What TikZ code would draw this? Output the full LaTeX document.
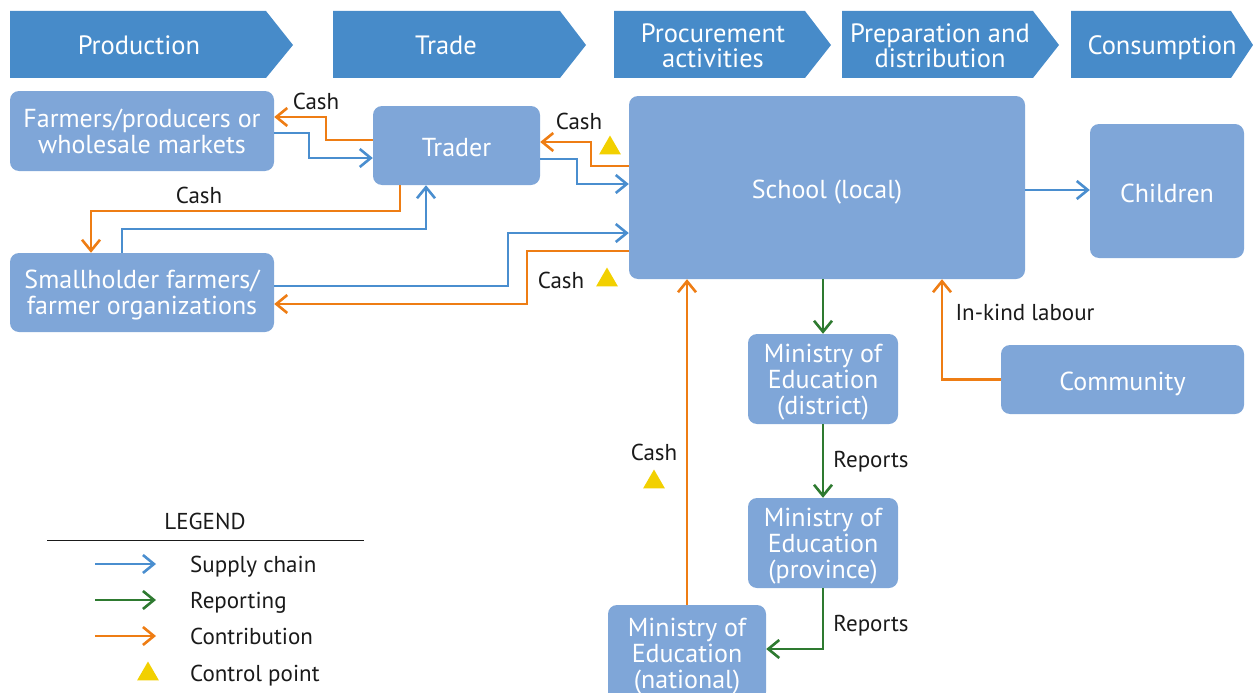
\documentclass[tikz,border=0pt]{standalone}
\usepackage{fontspec}
\setmainfont{PT Sans}
\usetikzlibrary{arrows.meta,shapes.geometric}
\definecolor{chev}{HTML}{478BC9}
\definecolor{boxblue}{HTML}{7FA6D8}
\definecolor{lblue}{HTML}{4A8ECF}
\definecolor{lgreen}{HTML}{2E7A30}
\definecolor{lorange}{HTML}{EE7D14}
\definecolor{cyellow}{HTML}{F2D000}
\definecolor{txt}{HTML}{1A1A1A}
\tikzset{
  box/.style={rounded corners=9, fill=boxblue, text=white, inner sep=0, align=center,
    text depth=0pt, font=\fontsize{26}{26}\selectfont},
  onebox/.style={box, text height=22pt},
  chevron/.style={fill=chev},
  headtxt/.style={text=white, align=center, inner sep=0, font=\fontsize{26.5}{25}\selectfont},
  onehead/.style={headtxt, text height=19pt, text depth=0pt},
  lbl/.style={text=txt, inner sep=0, text height=16.5pt, text depth=0pt, font=\fontsize{23}{24}\selectfont},
  conn/.style={line width=2.6, -{Straight Barb[length=11,width=18,line width=2.6]}},
  supply/.style={conn, draw=lblue},
  report/.style={conn, draw=lgreen},
  contrib/.style={conn, draw=lorange},
  ctrl/.style={regular polygon, regular polygon sides=3, fill=cyellow, inner sep=0, minimum size=25},
}
\begin{document}
\begin{tikzpicture}[x=1pt,y=-1pt]
\useasboundingbox (0,0) rectangle (1253,693);
% header chevrons
\fill[chevron] (10,11) -- (266,11) -- (293,45) -- (266,78) -- (10,78) -- cycle;
\fill[chevron] (333,11) -- (560,11) -- (586,45) -- (560,78) -- (333,78) -- cycle;
\fill[chevron] (614,11) -- (805,11) -- (831,45) -- (805,78) -- (614,78) -- cycle;
\fill[chevron] (842,11) -- (1033,11) -- (1059,45) -- (1033,78) -- (842,78) -- cycle;
\fill[chevron] (1071,11) -- (1231,11) -- (1253,45) -- (1231,78) -- (1071,78) -- cycle;
\node[onehead] (h1) at (139,45) {Production};
\node[onehead] (h2) at (446,45) {Trade};
\node[headtxt] (h3) at (713,46) {Procurement\\activities};
\node[headtxt] (h4) at (940,46) {Preparation and\\distribution};
\node[onehead] (h5) at (1162,45) {Consumption};
% boxes
\node[box, minimum width=264, minimum height=80] (farmers) at (142,131) {Farmers/producers or\\wholesale markets};
\node[onebox, minimum width=167, minimum height=79] (trader) at (456.5,145.5) {Trader};
\node[box, minimum width=264, minimum height=79] (small) at (142,292.5) {Smallholder farmers/\\farmer organizations};
\node[onebox, minimum width=396, minimum height=183] (school) at (827,187.5) {School (local)};
\node[onebox, minimum width=154, minimum height=134] (children) at (1167,191) {Children};
\node[box, minimum width=150, minimum height=90] (district) at (823,379) {Ministry of\\Education\\(district)};
\node[box, minimum width=150, minimum height=90] (province) at (823,543) {Ministry of\\Education\\(province)};
\node[box, minimum width=158, minimum height=96] (national) at (687,653) {Ministry of\\Education\\(national)};
\node[onebox, minimum width=243, minimum height=69] (community) at (1122.5,379.5) {Community};
% connectors
\draw[contrib] (trader.west |- 0,140) -| (326,117) -- (farmers.east |- 0,117);
\draw[supply] (farmers.east |- 0,133) -| (309,158) -- (trader.west |- 0,158);
\draw[contrib] (400,0 |- trader.south) |- (91,211) -- (91,0 |- small.north);
\draw[supply] (122,0 |- small.north) |- (426,229) -- (426,0 |- trader.south);
\draw[supply] (small.east |- 0,286) -| (508,233) -- (school.west |- 0,233);
\draw[contrib] (school.west |- 0,251) -| (527,304) -- (small.east |- 0,304);
\draw[contrib] (school.west |- 0,166) -| (591,142) -- (trader.east |- 0,142);
\draw[supply] (trader.east |- 0,159) -| (577,184) -- (school.west |- 0,184);
\draw[supply] (school.east |- 0,190) -- (children.west |- 0,190);
\draw[report] (school.south -| district.north) -- (district.north);
\draw[report] (district.south) -- (province.north);
\draw[report] (province.south) |- (national.east |- 0,649);
\draw[contrib] (national.north) -- (national.north |- school.south);
\draw[contrib] (community.west) -| (942,0 |- school.south);
% labels
\node[lbl] (c1) at (316,101) {Cash};
\node[lbl] (c2) at (199,195) {Cash};
\node[lbl] (c3) at (579,121) {Cash};
\node[lbl] (c4) at (561,280) {Cash};
\node[lbl] (c5) at (654,452) {Cash};
\node[lbl] (r1) at (871,459) {Reports};
\node[lbl] (r2) at (871,623) {Reports};
\node[lbl] (ik) at (1025,312) {In-kind labour};
% control points
\node[ctrl] (t1) at (610,148) {};
\node[ctrl] (t2) at (607,280) {};
\node[ctrl] (t3) at (654,482) {};
% legend
\node[lbl] (leg) at (205,521) {LEGEND};
\coordinate (la) at (47,540);
\coordinate (lb) at (364,540);
\draw[txt, line width=0.8] (la) -- (lb);
\coordinate (s1a) at (95,564); \coordinate (s1b) at (156,564);
\coordinate (s2a) at (95,600); \coordinate (s2b) at (156,600);
\coordinate (s3a) at (95,636); \coordinate (s3b) at (156,636);
\draw[supply] (s1a) -- (s1b);
\draw[report] (s2a) -- (s2b);
\draw[contrib] (s3a) -- (s3b);
\node[ctrl] (t4) at (148,674) {};
\node[lbl, anchor=west] (l1) at (190,564) {Supply chain};
\node[lbl, anchor=west] (l2) at (190,600) {Reporting};
\node[lbl, anchor=west] (l3) at (190,636) {Contribution};
\node[lbl, anchor=west] (l4) at (190,673) {Control point};
\end{tikzpicture}
\end{document}
